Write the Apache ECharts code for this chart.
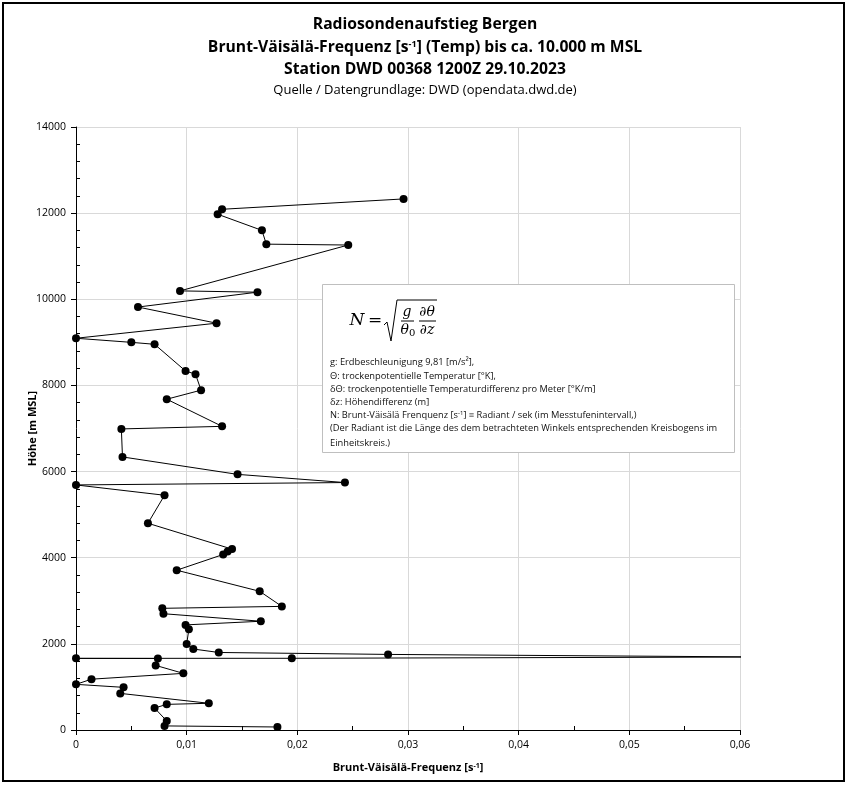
<!DOCTYPE html>
<html>
<head>
<meta charset="utf-8">
<script src="https://cdn.jsdelivr.net/npm/echarts@6/dist/echarts.min.js"></script>
<style>
html,body{margin:0;padding:0;background:#fff;}
#chart{width:848px;height:785px;}
</style>
</head>
<body>
<div id="chart"></div>
<script>
// Brunt-Väisälä frequency [1/s] per level, heights [m MSL] (top to bottom)
const frequency = [
  0.0296, 0.0132, 0.0128, 0.0168, 0.0172, 0.0246, 0.0094, 0.0164, 0.0056, 0.0127,
  0.0000, 0.0050, 0.0071, 0.0099, 0.0108, 0.0113, 0.0082, 0.0132, 0.0041, 0.0042,
  0.0146, 0.0243, 0.0000, 0.0080, 0.0065, 0.0141, 0.0137, 0.0133, 0.0091, 0.0166,
  0.0186, 0.0078, 0.0079, 0.0167, 0.0099, 0.0102, 0.0100, 0.0106, 0.0129, 0.0282,
  0.0620, 0.0195, 0.0000, 0.0074, 0.0072, 0.0097, 0.0014, 0.0000, 0.0043, 0.0040,
  0.0120, 0.0082, 0.0071, 0.0082, 0.0080, 0.0182
];
const heights = [
  12330, 12090, 11975, 11600, 11280, 11260, 10195, 10165, 9820, 9445,
  9095, 9000, 8955, 8335, 8260, 7890, 7680, 7050, 6990, 6340,
  5935, 5745, 5690, 5450, 4800, 4200, 4145, 4075, 3710, 3220,
  2870, 2825, 2700, 2525, 2440, 2340, 1995, 1880, 1800, 1755,
  1695, 1665, 1663, 1660, 1500, 1315, 1180, 1060, 990, 850,
  620, 595, 510, 210, 95, 70
];
const titleLines = [
  'Radiosondenaufstieg Bergen',
  'Station DWD 00368 1200Z 29.10.2023',
  'Quelle / Datengrundlage: DWD (opendata.dwd.de)'
];
const legendLines = [
  'g: Erdbeschleunigung 9,81 [m/s²],',
  'Θ: trockenpotentielle Temperatur [°K],',
  'δΘ: trockenpotentielle Temperaturdifferenz pro Meter [°K/m]',
  'δz: Höhendifferenz (m]',
  'N: Brunt-Väisälä Frenquenz [s{sup|-1}] ≡ Radiant / sek (im Messtufenintervall,)',
  '(Der Radiant ist die Länge des dem betrachteten Winkels entsprechenden Kreisbogens im',
  'Einheitskreis.)'
];

const chart = echarts.init(document.getElementById('chart'), null, {renderer: 'canvas'});
const data = frequency.map((f, i) => [f, heights[i]]);
const FONT = 'Open Sans';
const SERIF = '"DejaVu Serif"';

const graphics = [
  {type: 'rect', shape: {x: 3, y: 3, width: 841, height: 778}, style: {fill: 'none', stroke: '#000', lineWidth: 2}, z: 100},
  {type: 'rect', shape: {x: 322.5, y: 284.5, width: 412, height: 168}, style: {fill: '#fff', stroke: '#bfbfbf', lineWidth: 1}, z: 50},
  // formula N = sqrt( g/θ0 * ∂θ/∂z )
  {type: 'text', x: 357, y: 321, z: 51, style: {text: 'N', font: 'italic 17px ' + SERIF, fill: '#000', align: 'center', verticalAlign: 'middle'}},
  {type: 'text', x: 375, y: 321, z: 51, style: {text: '=', font: '17px ' + SERIF, fill: '#000', align: 'center', verticalAlign: 'middle'}},
  {type: 'polyline', z: 51, shape: {points: [[384, 325], [387, 322], [391, 341], [397, 300], [437, 300]]}, style: {stroke: '#000', lineWidth: 1, fill: 'none'}},
  {type: 'text', x: 407, y: 312, z: 51, style: {text: 'g', font: 'italic 14px ' + SERIF, fill: '#000', align: 'center', verticalAlign: 'middle'}},
  {type: 'line', z: 51, shape: {x1: 401, y1: 321, x2: 414, y2: 321}, style: {stroke: '#000', lineWidth: 1}},
  {type: 'text', x: 408, y: 330, z: 51, style: {text: '{a|θ}{s|0}', fill: '#000', align: 'center', verticalAlign: 'middle',
    rich: {a: {font: 'italic 14px ' + SERIF}, s: {font: '10px ' + SERIF, verticalAlign: 'bottom', padding: [6, 0, 0, 0]}}}},
  {type: 'text', x: 427, y: 312, z: 51, style: {text: '∂θ', font: 'italic 14px ' + SERIF, fill: '#000', align: 'center', verticalAlign: 'middle'}},
  {type: 'line', z: 51, shape: {x1: 419, y1: 321, x2: 436, y2: 321}, style: {stroke: '#000', lineWidth: 1}},
  {type: 'text', x: 427, y: 330, z: 51, style: {text: '∂z', font: 'italic 14px ' + SERIF, fill: '#000', align: 'center', verticalAlign: 'middle'}}
];
const legendY = [362, 376, 389, 402, 415, 428, 443];
legendLines.forEach((t, i) => {
  graphics.push({type: 'text', x: 330, y: legendY[i], z: 51, style: {
    text: t, fill: '#111', font: '9.3px "' + FONT + '"', verticalAlign: 'middle',
    rich: {sup: {font: '6px "' + FONT + '"', verticalAlign: 'top', padding: [0, 0, 4, 0]}}
  }});
});
// Titles
const TF = 'bold 15.7px "' + FONT + '"';
graphics.push({type: 'text', x: 425, y: 25, z: 51, style: {text: titleLines[0], font: TF, fill: '#000', align: 'center', verticalAlign: 'middle'}});
graphics.push({type: 'text', x: 425, y: 48, z: 51, style: {
  text: '{b|Brunt-Väisälä-Frequenz [s}{sup|-1}{b|] (Temp) bis ca. 10.000 m MSL}', align: 'center', verticalAlign: 'middle', fill: '#000',
  rich: {b: {font: TF}, sup: {font: 'bold 9px "' + FONT + '"', verticalAlign: 'top', padding: [0, 0, 6, 0]}}
}});
graphics.push({type: 'text', x: 425, y: 70, z: 51, style: {text: titleLines[1], font: TF, fill: '#000', align: 'center', verticalAlign: 'middle'}});
graphics.push({type: 'text', x: 425, y: 90, z: 51, style: {text: titleLines[2], font: '13px "' + FONT + '"', fill: '#000', align: 'center', verticalAlign: 'middle'}});

chart.setOption({
  animation: false,
  backgroundColor: '#fff',
  grid: {left: 76, right: 108, top: 127, bottom: 55, containLabel: false},
  xAxis: {
    type: 'value', min: 0, max: 0.06, interval: 0.01,
    name: '{b|Brunt-Väisälä-Frequenz [s}{sup|-1}{b|]}', nameLocation: 'middle', nameGap: 32,
    nameTextStyle: {rich: {b: {fontFamily: FONT, fontWeight: 'bold', fontSize: 11, color: '#000'}, sup: {fontFamily: FONT, fontWeight: 'bold', fontSize: 7, color: '#000', verticalAlign: 'top', padding: [0, 0, 5, 0]}}},
    axisLine: {show: true, onZero: false, lineStyle: {color: '#000', width: 1}},
    axisTick: {show: true, length: 5, lineStyle: {color: '#000'}},
    minorTick: {show: true, splitNumber: 2, length: -4, lineStyle: {color: '#000'}},
    axisLabel: {fontFamily: FONT, fontSize: 10.5, color: '#000', margin: 10,
      formatter: v => v === 0 ? '0' : v.toFixed(2).replace('.', ',')},
    splitLine: {show: true, lineStyle: {color: '#d9d9d9', width: 1}}
  },
  yAxis: {
    type: 'value', min: 0, max: 14000, interval: 2000,
    name: 'Höhe [m MSL]', nameLocation: 'middle', nameGap: 38, nameMoveOverlap: false,
    nameTextStyle: {fontFamily: FONT, fontWeight: 'bold', fontSize: 11, color: '#000'},
    axisLine: {show: true, onZero: false, lineStyle: {color: '#000', width: 1}},
    axisTick: {show: true, length: 5, lineStyle: {color: '#000'}},
    minorTick: {show: true, splitNumber: 5, length: -4, lineStyle: {color: '#000'}},
    axisLabel: {fontFamily: FONT, fontSize: 10.5, color: '#000', margin: 10, formatter: v => String(v)},
    splitLine: {show: true, lineStyle: {color: '#d9d9d9', width: 1}}
  },
  series: [{
    type: 'line', data: data,
    symbol: 'circle', symbolSize: 8,
    itemStyle: {color: '#000'},
    lineStyle: {color: '#000', width: 1},
    clip: true
  }],
  graphic: graphics
});
</script>
</body>
</html>
